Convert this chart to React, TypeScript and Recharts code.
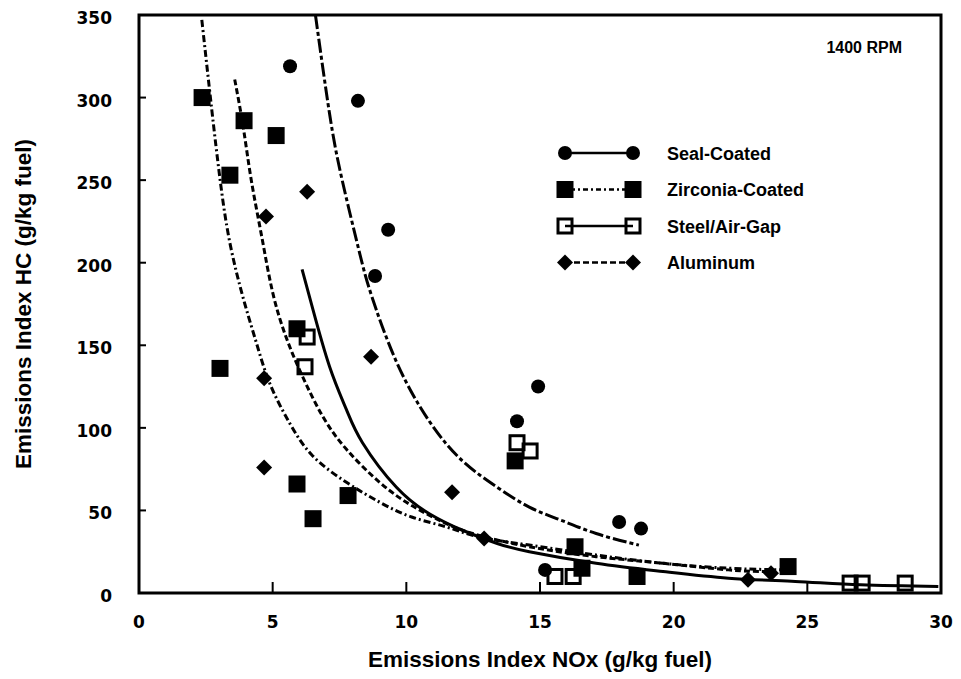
import React from 'react'
import {
  ComposedChart,
  Line,
  Scatter,
  XAxis,
  YAxis,
  ReferenceArea,
  Legend,
} from 'recharts'

const X_TICKS = [0, 5, 10, 15, 20, 25, 30]
const Y_TICKS = [0, 50, 100, 150, 200, 250, 300, 350]

const X_TITLE = 'Emissions Index NOx (g/kg fuel)'
const Y_TITLE = 'Emissions Index HC (g/kg fuel)'
const NOTE = '1400 RPM'

// measured points
const SEAL_POINTS = [
  { x: 5.65, y: 319 }, { x: 8.19, y: 298 }, { x: 9.32, y: 220 }, { x: 8.83, y: 192 },
  { x: 14.93, y: 125 }, { x: 14.14, y: 104 }, { x: 17.96, y: 43 }, { x: 18.78, y: 39 },
  { x: 15.19, y: 14 },
]
const ZIRC_POINTS = [
  { x: 2.36, y: 300 }, { x: 3.4, y: 253 }, { x: 3.93, y: 286 }, { x: 5.13, y: 277 },
  { x: 5.91, y: 160 }, { x: 3.03, y: 136 }, { x: 5.91, y: 66 }, { x: 6.51, y: 45 },
  { x: 7.82, y: 59 }, { x: 14.07, y: 80 }, { x: 16.31, y: 28 }, { x: 16.57, y: 15 },
  { x: 18.63, y: 10 }, { x: 24.28, y: 16 },
]
const STEEL_POINTS = [
  { x: 6.29, y: 155 }, { x: 6.21, y: 137 }, { x: 14.14, y: 91 }, { x: 14.63, y: 86 },
  { x: 15.56, y: 10 }, { x: 16.24, y: 10 }, { x: 26.6, y: 6 }, { x: 27.05, y: 6 },
  { x: 28.66, y: 6 },
]
const ALUM_POINTS = [
  { x: 6.29, y: 243 }, { x: 4.75, y: 228 }, { x: 8.68, y: 143 }, { x: 4.68, y: 130 },
  { x: 4.68, y: 76 }, { x: 11.71, y: 61 }, { x: 12.91, y: 33 }, { x: 22.78, y: 8 },
  { x: 23.64, y: 12 },
]

// fitted curves
const SEAL_FIT = [
  { x: 6.6, y: 350 }, { x: 7.13, y: 290 }, { x: 7.6, y: 250 }, { x: 8.25, y: 206 },
  { x: 8.7, y: 180 }, { x: 9.63, y: 140 }, { x: 10.86, y: 104 }, { x: 12.1, y: 80 },
  { x: 13.4, y: 64 }, { x: 14.6, y: 52 }, { x: 15.8, y: 44 }, { x: 17.1, y: 36 },
  { x: 18.7, y: 29 },
]
const ZIRC_FIT = [
  { x: 2.35, y: 347 }, { x: 2.72, y: 293 }, { x: 3.02, y: 252 }, { x: 3.4, y: 212 },
  { x: 3.96, y: 175 }, { x: 4.4, y: 151 }, { x: 4.89, y: 127 }, { x: 5.63, y: 103 },
  { x: 6.5, y: 83 }, { x: 7.76, y: 67 }, { x: 9.0, y: 55 }, { x: 10.2, y: 46 },
  { x: 11.5, y: 40 }, { x: 12.7, y: 34 }, { x: 14.6, y: 29 }, { x: 17.1, y: 23 },
  { x: 19.6, y: 18 }, { x: 22.05, y: 15 }, { x: 24.2, y: 14 },
]
const STEEL_FIT = [
  { x: 6.1, y: 196 }, { x: 6.5, y: 172 }, { x: 7.13, y: 137 }, { x: 7.76, y: 111 },
  { x: 8.36, y: 91 }, { x: 9.63, y: 64 }, { x: 10.86, y: 48 }, { x: 12.1, y: 38 },
  { x: 13.4, y: 30 }, { x: 14.6, y: 25 }, { x: 17.1, y: 18 }, { x: 19.6, y: 13 },
  { x: 22.05, y: 9 }, { x: 24.55, y: 7 }, { x: 27.0, y: 5 }, { x: 29.9, y: 4 },
]
const ALUM_FIT = [
  { x: 3.58, y: 311 }, { x: 3.9, y: 282 }, { x: 4.2, y: 250 }, { x: 4.6, y: 215 },
  { x: 5.0, y: 182 }, { x: 5.5, y: 155 }, { x: 6.12, y: 131 }, { x: 6.87, y: 107 },
  { x: 7.76, y: 87 }, { x: 9.0, y: 67 }, { x: 10.2, y: 53 }, { x: 11.5, y: 42 },
  { x: 12.7, y: 35 }, { x: 14.6, y: 28 }, { x: 17.1, y: 22 }, { x: 19.6, y: 18 },
  { x: 22.05, y: 14 }, { x: 23.6, y: 13 },
]

const SERIES = [
  { name: 'Seal-Coated', points: SEAL_POINTS, fit: SEAL_FIT, marker: 'circle', dash: '14 3 4 3', legendDash: '3 3 200' },
  { name: 'Zirconia-Coated', points: ZIRC_POINTS, fit: ZIRC_FIT, marker: 'square', dash: '7 3 2 3', legendDash: '2 3 5 3' },
  { name: 'Steel/Air-Gap', points: STEEL_POINTS, fit: STEEL_FIT, marker: 'open', dash: undefined, legendDash: undefined },
  { name: 'Aluminum', points: ALUM_POINTS, fit: ALUM_FIT, marker: 'diamond', dash: '6 3', legendDash: '6 3' },
]

const SANS = '"Liberation Sans", Arial, sans-serif'
const TICK_FONT = '"DejaVu Sans", sans-serif'

const Marker = ({ kind, cx, cy }: { kind: string; cx: number; cy: number }) => {
  if (kind === 'circle') return <circle cx={cx} cy={cy} r={7} fill="#000" />
  if (kind === 'square') return <rect x={cx - 8.5} y={cy - 8.5} width={17} height={17} fill="#000" />
  if (kind === 'open')
    return <rect x={cx - 7} y={cy - 7} width={14} height={14} fill="none" stroke="#000" strokeWidth={3} />
  return <path d={`M${cx},${cy - 8}L${cx + 8},${cy}L${cx},${cy + 8}L${cx - 8},${cy}Z`} fill="#000" />
}

const XTick = ({ x, y, payload }: any) => {
  const v = payload.value
  return (
    <g>
      {v > 0 && v < 30 && <line x1={x} y1={y} x2={x} y2={y - 11} stroke="#000" strokeWidth={2} />}
      <text x={x} y={y + 35} textAnchor="middle" fontFamily={TICK_FONT} fontWeight="bold" fontSize={17} fill="#000">
        {v}
      </text>
    </g>
  )
}

const YTick = ({ x, y, payload }: any) => {
  const v = payload.value
  return (
    <g>
      {v > 0 && v < 350 && <line x1={x} y1={y} x2={x + 7} y2={y} stroke="#000" strokeWidth={2} />}
      <text x={x - 27} y={y + 9} textAnchor="end" fontFamily={TICK_FONT} fontWeight="bold" fontSize={17} fill="#000">
        {v}
      </text>
    </g>
  )
}

const renderXTitle = ({ viewBox }: any) => (
  <text
    x={viewBox.x + viewBox.width / 2}
    y={viewBox.y + 74}
    textAnchor="middle"
    fontFamily={SANS}
    fontWeight="bold"
    fontSize={22.5}
    fill="#000"
  >
    {X_TITLE}
  </text>
)

const renderYTitle = ({ viewBox }: any) => {
  const cx = 23
  const cy = viewBox.y + viewBox.height / 2
  return (
    <text
      x={cx}
      y={cy}
      transform={`rotate(-90 ${cx} ${cy})`}
      textAnchor="middle"
      dominantBaseline="central"
      fontFamily={SANS}
      fontWeight="bold"
      fontSize={22.5}
      fill="#000"
    >
      {Y_TITLE}
    </text>
  )
}

const renderNote = ({ viewBox }: any) => (
  <text
    x={viewBox.x + viewBox.width - 39}
    y={viewBox.y + 38}
    textAnchor="end"
    fontFamily={SANS}
    fontWeight="bold"
    fontSize={16}
    fill="#000"
  >
    {NOTE}
  </text>
)

const renderLegend = () => (
  <svg width={290} height={140}>
    {SERIES.map((s, i) => {
      const y = 13 + i * 36.5
      return (
        <g key={s.name}>
          <line x1={15} y1={y} x2={83} y2={y} stroke="#000" strokeWidth={2.5} strokeDasharray={s.legendDash} />
          <Marker kind={s.marker} cx={15} cy={y} />
          <Marker kind={s.marker} cx={83} cy={y} />
          <text x={117} y={y + 6.5} fontFamily={SANS} fontWeight="bold" fontSize={18} fill="#000">
            {s.name}
          </text>
        </g>
      )
    })}
  </svg>
)

export default function App() {
  return (
    <div style={{ position: 'absolute', left: 0, top: 0, width: 961, height: 679, background: '#fff' }}>
      <ComposedChart width={961} height={679} margin={{ top: 15, right: 20, bottom: 0, left: 0 }}>
        <XAxis
          type="number"
          dataKey="x"
          domain={[0, 30]}
          ticks={X_TICKS}
          height={86}
          axisLine={false}
          tickLine={false}
          tickSize={0}
          tickMargin={0}
          tick={<XTick />}
          label={renderXTitle}
        />
        <YAxis
          type="number"
          dataKey="y"
          domain={[0, 350]}
          ticks={Y_TICKS}
          width={139}
          axisLine={false}
          tickLine={false}
          tickSize={0}
          tickMargin={0}
          tick={<YTick />}
          label={renderYTitle}
        />
        <ReferenceArea
          x1={0}
          x2={30}
          y1={0}
          y2={350}
          fill="none"
          stroke="#000"
          strokeWidth={3}
          label={renderNote}
        />
        {SERIES.map((s) => (
          <Line
            key={`fit-${s.name}`}
            data={s.fit}
            dataKey="y"
            type="natural"
            stroke="#000"
            strokeWidth={3}
            strokeDasharray={s.dash}
            dot={false}
            activeDot={false}
            isAnimationActive={false}
          />
        ))}
        {SERIES.map((s) => (
          <Scatter
            key={`pts-${s.name}`}
            name={s.name}
            data={s.points}
            shape={(p: any) => <Marker kind={s.marker} cx={p.cx} cy={p.cy} />}
            isAnimationActive={false}
          />
        ))}
        <Legend
          layout="horizontal"
          align="center"
          verticalAlign="middle"
          content={renderLegend}
          wrapperStyle={{ left: 550, top: 140, width: 290 }}
        />
      </ComposedChart>
    </div>
  )
}
